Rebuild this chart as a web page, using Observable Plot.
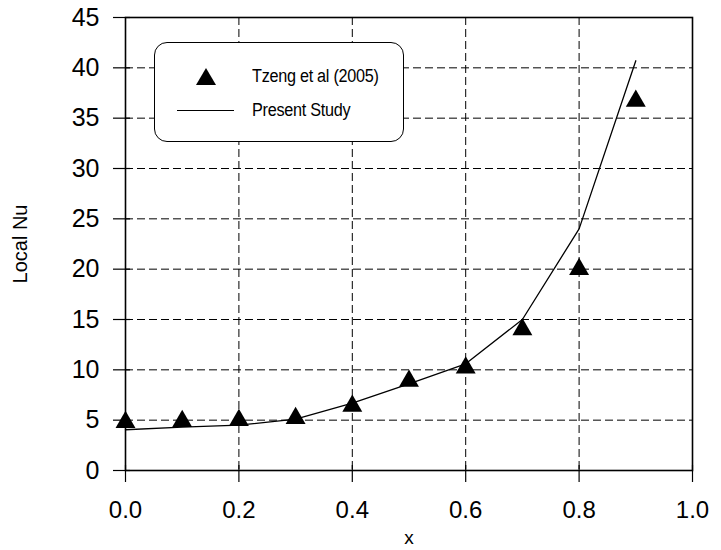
<!DOCTYPE html>
<html><head><meta charset="utf-8">
<script src="https://cdn.jsdelivr.net/npm/d3@7"></script>
<script src="https://cdn.jsdelivr.net/npm/@observablehq/plot@0.6"></script>
<style>
body{margin:0;background:#fff;font-family:"Liberation Sans",Arial,sans-serif;}
#wrap{position:relative;width:721px;height:550px;}
#legend{position:absolute;left:154px;top:42px;width:250px;height:100px;border:1.2px solid #000;border-radius:13px;background:#fff;box-sizing:border-box;font-size:18px;}
#legend .row{position:absolute;left:0;height:20px;line-height:20px;}
#legend .lbl{position:absolute;left:97px;white-space:nowrap;transform:scaleX(0.9);transform-origin:left center;letter-spacing:-0.3px;}
</style></head>
<body><div id="wrap"></div>
<script>
const xs = [0.0, 0.1, 0.2, 0.3, 0.4, 0.5, 0.6, 0.7, 0.8, 0.9];
const tzeng = [4.8, 4.9, 5.0, 5.2, 6.4, 8.9, 10.2, 14.0, 20.0, 36.7];
const present = [4.05, 4.3, 4.5, 5.1, 6.7, 8.6, 10.6, 15.0, 24.0, 40.7];
const xTicks = [0, 0.2, 0.4, 0.6, 0.8, 1.0];
const yTicks = [0, 5, 10, 15, 20, 25, 30, 35, 40, 45];
const seriesNames = ["Tzeng et al (2005)", "Present Study"];

const ptsT = xs.map((x, i) => ({x, y: tzeng[i]}));
const ptsP = xs.map((x, i) => ({x, y: present[i]}));

const chart = Plot.plot({
  width: 721, height: 550,
  marginLeft: 125, marginRight: 29, marginTop: 17, marginBottom: 80,
  style: {fontFamily: '"Liberation Sans", Arial, sans-serif', background: "#fff", color: "#000"},
  x: {domain: [0, 1]},
  y: {domain: [0, 45]},
  marks: [
    Plot.gridX(xTicks, {stroke: "#000", strokeOpacity: 1, strokeWidth: 1, strokeDasharray: "8,4"}),
    Plot.gridY(yTicks, {stroke: "#000", strokeOpacity: 1, strokeWidth: 1, strokeDasharray: "8,4"}),
    Plot.axisX(xTicks, {tickSize: 12, tickPadding: 18, tickFormat: d3.format(".1f"), fontSize: 24, label: null, strokeWidth: 1.2}),
    Plot.axisX(xTicks, {tickSize: -5, tickFormat: () => "", label: null, strokeWidth: 1.2}),
    Plot.axisY(yTicks, {tickSize: 12, tickPadding: 14, fontSize: 25, label: null, strokeWidth: 1.2}),
    Plot.axisY(yTicks, {tickSize: -5, tickFormat: () => "", label: null, strokeWidth: 1.2}),
    Plot.frame({stroke: "#000", strokeWidth: 1.6}),
    Plot.line(ptsP, {x: "x", y: "y", stroke: "#000", strokeWidth: 1.3}),
    Plot.dot(ptsT, {x: "x", y: "y", symbol: "triangle", fill: "#000", stroke: "none", r: 7.4}),
    Plot.text(["x"], {frameAnchor: "bottom", dy: 67, fontSize: 19, lineAnchor: "middle"}),
    Plot.text(["Local Nu"], {frameAnchor: "left", dx: -105, rotate: -90, fontSize: 20, textAnchor: "middle", lineAnchor: "middle"})
  ]
});
const wrap = document.getElementById("wrap");
wrap.appendChild(chart);

const legend = document.createElement("div");
legend.id = "legend";
legend.innerHTML = `
<div class="row" style="top:23px;width:100%">
  <svg style="position:absolute;left:40px;top:1px" width="22" height="20"><polygon points="11,1 21,18 1,18" fill="#000"/></svg>
  <span class="lbl">${seriesNames[0]}</span>
</div>
<div class="row" style="top:57px;width:100%">
  <svg style="position:absolute;left:22px;top:0" width="58" height="20"><line x1="0" y1="10.5" x2="57" y2="10.5" stroke="#000" stroke-width="1.2"/></svg>
  <span class="lbl">${seriesNames[1]}</span>
</div>`;
wrap.appendChild(legend);
</script></body></html>
